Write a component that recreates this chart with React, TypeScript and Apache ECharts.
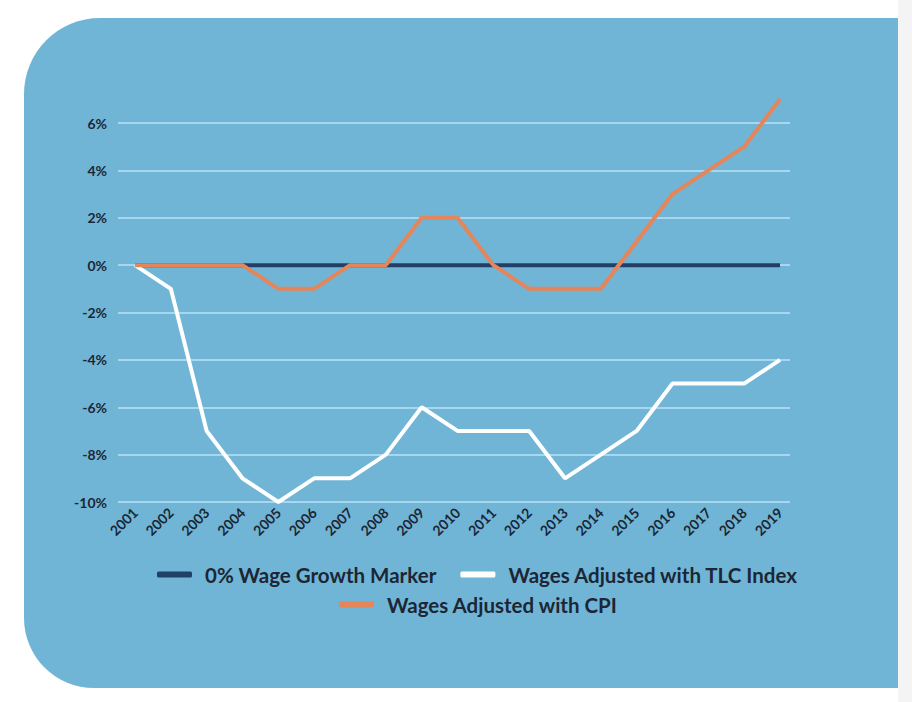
import React, { useEffect, useRef } from "react";
import * as echarts from "echarts";

const years = [2001, 2002, 2003, 2004, 2005, 2006, 2007, 2008, 2009, 2010, 2011, 2012, 2013, 2014, 2015, 2016, 2017, 2018, 2019];
const zeroMarker = [0, 0, 0, 0, 0, 0, 0, 0, 0, 0, 0, 0, 0, 0, 0, 0, 0, 0, 0];
const tlcWages = [0, -1, -7, -9, -10, -9, -9, -8, -6, -7, -7, -7, -9, -8, -7, -5, -5, -5, -4];
const cpiWages = [0, 0, 0, 0, -1, -1, 0, 0, 2, 2, 0, -1, -1, -1, 1, 3, 4, 5, 7];
const seriesNames = ["0% Wage Growth Marker", "Wages Adjusted with TLC Index", "Wages Adjusted with CPI"];

const FONT = "Lato";
const TEXT = "#1c2634";

export default function App() {
  const ref = useRef<HTMLDivElement>(null);
  useEffect(() => {
    document.body.style.margin = "0";
    if (!ref.current) return;
    const chart = echarts.init(ref.current, null, { renderer: "svg" });
    const pair = (vals: number[]) => years.map((y, i) => [y, vals[i]]);
    const legendText = { color: TEXT, fontFamily: FONT, fontWeight: "bold", fontSize: 20.5, padding: [0, 0, 0, 8] };
    chart.setOption({
      animation: false,
      backgroundColor: "#ffffff",
      graphic: [
        { type: "rect", z: -10, shape: { x: 24, y: 18, width: 874, height: 670, r: [76, 0, 0, 70] }, style: { fill: "#70b5d6" } },
        { type: "rect", z: -10, shape: { x: 898, y: 0, width: 14, height: 702 }, style: { fill: "#f4f4f4" } },
      ],
      grid: { left: 118, right: 122, top: 123, bottom: 200 },
      xAxis: {
        type: "value",
        min: 2001 - 17 / 35.83,
        max: 2019 + 10 / 35.83,
        splitLine: { show: false },
        axisLine: { show: false },
        axisTick: { show: false },
        axisLabel: {
          customValues: years,
          rotate: 45,
          margin: 8,
          color: TEXT,
          fontFamily: FONT,
          fontWeight: "bold",
          fontSize: 14,
          formatter: (v: number) => String(v),
        },
      },
      yAxis: {
        type: "value",
        min: -10,
        max: 6,
        interval: 2,
        axisLine: { show: false },
        axisTick: { show: false },
        splitLine: { lineStyle: { color: "#a9d6ef", width: 2 } },
        axisLabel: {
          margin: 11,
          color: TEXT,
          fontFamily: FONT,
          fontWeight: "bold",
          fontSize: 14,
          formatter: "{value}%",
        },
      },
      legend: [
        {
          data: [seriesNames[0], seriesNames[1]],
          left: 152,
          top: 559,
          icon: "roundRect",
          itemWidth: 35,
          itemHeight: 6,
          itemGap: 24,
          textStyle: legendText,
        },
        {
          data: [seriesNames[2]],
          left: 334,
          top: 589,
          icon: "roundRect",
          itemWidth: 35,
          itemHeight: 6,
          textStyle: legendText,
        },
      ],
      series: [
        { name: seriesNames[0], type: "line", clip: false, data: pair(zeroMarker), showSymbol: false, lineStyle: { color: "#243f66", width: 4 }, itemStyle: { color: "#243f66" } },
        { name: seriesNames[1], type: "line", clip: false, data: pair(tlcWages), showSymbol: false, lineStyle: { color: "#ffffff", width: 4 }, itemStyle: { color: "#ffffff" } },
        { name: seriesNames[2], type: "line", clip: false, data: pair(cpiWages), showSymbol: false, lineStyle: { color: "#e4855a", width: 4 }, itemStyle: { color: "#e4855a" } },
      ],
    });
    return () => chart.dispose();
  }, []);
  return <div ref={ref} style={{ width: 912, height: 702 }} />;
}
